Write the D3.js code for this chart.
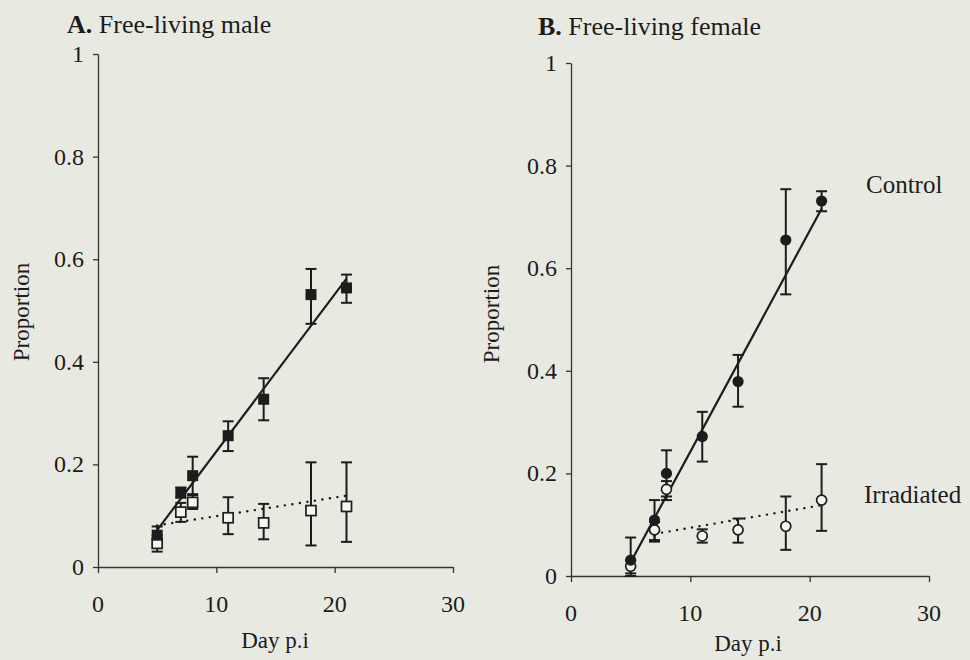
<!DOCTYPE html>
<html><head><meta charset="utf-8">
<script src="https://cdn.jsdelivr.net/npm/d3@7"></script>
<style>
html,body{margin:0;padding:0;background:#e8eae2;}
svg{display:block;}
</style></head>
<body>
<svg id="chart" width="970" height="660" font-family="'Liberation Serif', 'Times New Roman', 'DejaVu Serif', serif"></svg>
<script>
// ---- data ----
const days = [5, 7, 8, 11, 14, 18, 21];
const xTicks = [0, 10, 20, 30];
const yTicks = [0, 0.2, 0.4, 0.6, 0.8, 1];
const yTickLabels = ["0", "0.2", "0.4", "0.6", "0.8", "1"];

const maleControl   = [0.062, 0.145, 0.178, 0.256, 0.327, 0.531, 0.544];
const maleControlLo = [0.045, 0.135, 0.140, 0.226, 0.286, 0.474, 0.515];
const maleControlHi = [0.079, 0.155, 0.215, 0.284, 0.368, 0.581, 0.570];
const maleIrr       = [0.046, 0.107, 0.126, 0.096, 0.086, 0.110, 0.118];
const maleIrrLo     = [0.030, 0.088, 0.113, 0.064, 0.054, 0.042, 0.049];
const maleIrrHi     = [0.062, 0.125, 0.142, 0.136, 0.123, 0.204, 0.204];
const maleControlFitX = [5, 21], maleControlFitY = [0.072, 0.562];
const maleIrrFitX = [5, 21],     maleIrrFitY = [0.081, 0.139];

const femControl   = [0.031, 0.109, 0.200, 0.272, 0.379, 0.655, 0.731];
const femControlLo = [0.000, 0.067, 0.155, 0.223, 0.330, 0.549, 0.711];
const femControlHi = [0.075, 0.148, 0.245, 0.320, 0.431, 0.754, 0.750];
const femIrr       = [0.019, 0.090, 0.169, 0.078, 0.090, 0.097, 0.148];
const femIrrLo     = [0.005, 0.070, 0.148, 0.065, 0.065, 0.051, 0.088];
const femIrrHi     = [0.030, 0.105, 0.185, 0.091, 0.112, 0.155, 0.218];
const femControlFitX = [5, 21], femControlFitY = [0.027, 0.716];
const femIrrFitX = [7, 21],     femIrrFitY = [0.082, 0.138];

const svg = d3.select("#chart");
const ink = "#1c1c1c";

function panel(cfg) {
  const x = d3.scaleLinear().domain([0, 30]).range([cfg.x0, cfg.x1]);
  const y = d3.scaleLinear().domain([0, 1]).range([cfg.y0, cfg.y1]);
  const g = svg.append("g").attr("fill", ink);

  // axes
  const xa = g.append("g").attr("transform", `translate(0,${cfg.y0})`)
    .call(d3.axisBottom(x).tickValues(xTicks).tickSize(6).tickSizeOuter(0).tickFormat(""));
  const ya = g.append("g").attr("transform", `translate(${cfg.x0},0)`)
    .call(d3.axisLeft(y).tickValues(yTicks).tickSize(5).tickSizeOuter(0).tickFormat(""));
  [xa, ya].forEach(a => {
    a.attr("font-family", null);
    a.select(".domain").attr("stroke", "#333").attr("stroke-width", 1.3);
    a.selectAll(".tick line").attr("stroke", "#333").attr("stroke-width", 1.3);
  });
  // tick labels
  g.selectAll(".xl").data(xTicks).enter().append("text")
    .attr("x", d => x(d)).attr("y", cfg.xlabY).attr("text-anchor", "middle")
    .attr("font-size", 24).text(d => d);
  g.selectAll(".yl").data(yTicks).enter().append("text")
    .attr("x", cfg.x0 - 14).attr("y", d => y(d) + 8).attr("text-anchor", "end")
    .attr("font-size", 24).text((d, i) => yTickLabels[i]);

  // titles
  const t = g.append("text").attr("x", cfg.titleX).attr("y", cfg.titleY).attr("font-size", 26);
  t.append("tspan").attr("font-weight", "bold").text(cfg.letter);
  t.append("tspan").text(" " + cfg.title);
  g.append("text").attr("x", cfg.axisTitleX).attr("y", cfg.axisTitleY).attr("text-anchor", "middle")
    .attr("font-size", 23).text("Day p.i");
  g.append("text").attr("transform", `translate(${cfg.yTitleX},${cfg.yTitleY}) rotate(-90)`)
    .attr("text-anchor", "middle").attr("font-size", 23).text("Proportion");

  // fit lines
  const line = d3.line().x(d => x(d[0])).y(d => y(d[1]));
  g.append("path").datum(d3.zip(cfg.irrFitX, cfg.irrFitY)).attr("d", line)
    .attr("fill", "none").attr("stroke", ink).attr("stroke-width", 2.4)
    .attr("stroke-dasharray", "0.1,7.5").attr("stroke-linecap", "round");
  g.append("path").datum(d3.zip(cfg.ctlFitX, cfg.ctlFitY)).attr("d", line)
    .attr("fill", "none").attr("stroke", ink).attr("stroke-width", 2.2);

  // error bars
  function errbars(lo, hi) {
    const eg = g.append("g").attr("stroke", ink).attr("stroke-width", 2);
    days.forEach((d, i) => {
      const cx = x(d);
      eg.append("line").attr("x1", cx).attr("x2", cx).attr("y1", y(lo[i])).attr("y2", y(hi[i]));
      eg.append("line").attr("x1", cx - 5.5).attr("x2", cx + 5.5).attr("y1", y(lo[i])).attr("y2", y(lo[i]));
      eg.append("line").attr("x1", cx - 5.5).attr("x2", cx + 5.5).attr("y1", y(hi[i])).attr("y2", y(hi[i]));
    });
  }
  errbars(cfg.irrLo, cfg.irrHi);
  errbars(cfg.ctlLo, cfg.ctlHi);

  // markers
  const s = 11;
  if (cfg.shape === "square") {
    g.selectAll(".io").data(days).enter().append("rect")
      .attr("x", d => x(d) - s / 2 + 0.5).attr("y", (d, i) => y(cfg.irr[i]) - s / 2 + 0.5)
      .attr("width", s - 1).attr("height", s - 1)
      .attr("fill", "#f4f5ef").attr("stroke", ink).attr("stroke-width", 1.7);
    g.selectAll(".cf").data(days).enter().append("rect")
      .attr("x", d => x(d) - s / 2).attr("y", (d, i) => y(cfg.ctl[i]) - s / 2)
      .attr("width", s).attr("height", s).attr("fill", ink);
  } else {
    g.selectAll(".io").data(days).enter().append("circle")
      .attr("cx", d => x(d)).attr("cy", (d, i) => y(cfg.irr[i])).attr("r", 5)
      .attr("fill", "#f4f5ef").attr("stroke", ink).attr("stroke-width", 1.7);
    g.selectAll(".cf").data(days).enter().append("circle")
      .attr("cx", d => x(d)).attr("cy", (d, i) => y(cfg.ctl[i])).attr("r", 5.6)
      .attr("fill", ink);
  }
  return {x, y};
}

panel({
  x0: 98, x1: 453, y0: 567, y1: 54, xlabY: 612, titleX: 67, titleY: 33,
  letter: "A.", title: "Free-living male", axisTitleX: 275, axisTitleY: 648,
  yTitleX: 29, yTitleY: 312, shape: "square",
  ctl: maleControl, ctlLo: maleControlLo, ctlHi: maleControlHi,
  irr: maleIrr, irrLo: maleIrrLo, irrHi: maleIrrHi,
  ctlFitX: maleControlFitX, ctlFitY: maleControlFitY,
  irrFitX: maleIrrFitX, irrFitY: maleIrrFitY
});
panel({
  x0: 571, x1: 929, y0: 576, y1: 63, xlabY: 621, titleX: 538, titleY: 35,
  letter: "B.", title: "Free-living female", axisTitleX: 748, axisTitleY: 651,
  yTitleX: 499, yTitleY: 314, shape: "circle",
  ctl: femControl, ctlLo: femControlLo, ctlHi: femControlHi,
  irr: femIrr, irrLo: femIrrLo, irrHi: femIrrHi,
  ctlFitX: femControlFitX, ctlFitY: femControlFitY,
  irrFitX: femIrrFitX, irrFitY: femIrrFitY
});

svg.append("text").attr("x", 866).attr("y", 193).attr("font-size", 25).attr("fill", ink).text("Control");
svg.append("text").attr("x", 864).attr("y", 503).attr("font-size", 25).attr("fill", ink).text("Irradiated");
</script>
</body></html>
